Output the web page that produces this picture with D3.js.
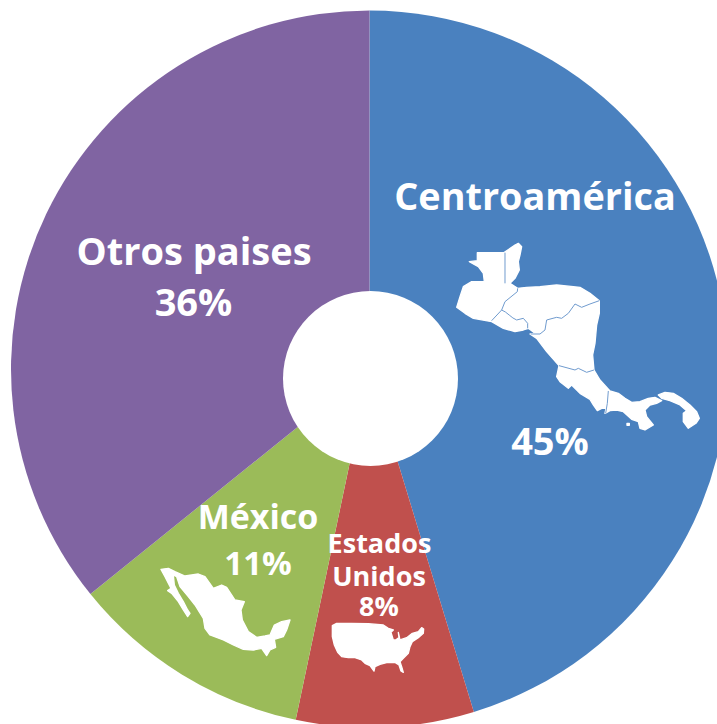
<!DOCTYPE html>
<html>
<head>
<meta charset="utf-8">
<script src="https://cdn.jsdelivr.net/npm/d3@7"></script>
<style>
  html, body { margin: 0; padding: 0; background: #fff; overflow: hidden; }
  svg { display: block; }
  text { font-family: "Open Sans", sans-serif; font-weight: 700; fill: #fff; text-anchor: middle; }
</style>
</head>
<body>
<svg id="chart" width="717" height="724"></svg>
<script>
// Shares (slice edges), labels are the rounded ones printed on it
const categories = ['Centroamérica', 'Estados Unidos', 'México', 'Otros paises'];
const shares = [45.3, 8.0, 10.9, 35.8];
const colors = ['#4a81bf', '#c0504d', '#9bbb59', '#8064a2'];

// Label lines: [text, x, baseline y, font size]
const labelLines = [
  ['Centroamérica', 535, 210, 37.8],
  ['45%', 550, 455, 38],
  ['Estados', 379.5, 553, 27],
  ['Unidos', 379, 586, 27],
  ['8%', 379, 616, 27],
  ['México', 258, 529, 34],
  ['11%', 258, 575, 33],
  ['Otros paises', 194, 265, 38],
  ['36%', 193.5, 316, 38]
];

// Map silhouettes
const centralAmerica = 'M112,68 L192,68 L225,45 L235,40 L245,50 L240,75 L235,95 L238,120 L225,145 L210,160 L233,175 L260,172 L300,170 L350,165 L400,170 L420,172 L450,190 L478,212 L478,250 L470,285 L465,340 L458,375 L462,420 L480,450 L510,483 '
  + 'L535,490 L555,505 L575,517 L600,515 L625,505 L645,502 L665,512 L650,520 L630,525 L615,540 L620,560 L640,585 L615,600 L600,595 L595,575 L575,568 L550,545 L530,540 L510,542 L495,550 L498,535 L485,535 L472,542 L460,525 L450,508 '
  + 'L420,490 L395,465 L385,475 L360,455 L350,440 L357,407 L320,365 L290,325 L270,312 L285,310 L265,295 L250,300 L225,305 L190,295 L155,275 L100,265 L75,250 L50,232 L60,200 L70,170 L95,155 L133,155 L130,130 L115,110 L88,95 L112,92 Z '
  + 'M655,495 L675,487 L700,490 L725,505 L750,525 L770,545 L778,565 L768,580 L745,595 L730,575 L730,550 L740,542 L720,525 L690,512 L665,505 Z '
  + 'M561,580 L568,580 L568,586 L561,586 Z';
const centralAmericaBorders = [
  'M195,68 L195,160',
  'M233,175 L232,185 L195,215 L185,240 L155,272',
  'M185,240 C200,245 215,265 230,270 L250,265 L263,280 L263,295',
  'M478,212 L450,222 L425,232 L405,222 L385,250 L365,265 L350,262 L320,270 L315,300 L300,312 L272,312',
  'M357,407 L405,420 L415,415 L440,427 L462,420',
  'M505,483 L502,520 L497,550'
];
const mexico = 'M18,28 L40,25 L60,35 L90,48 L130,42 L150,50 L175,85 L200,75 L215,82 L240,120 L268,125 L258,150 L262,180 L280,215 L305,232 L330,228 L345,225 L358,195 L380,185 L405,180 L395,210 L385,230 L358,238 L362,262 L345,270 L335,287 L320,265 L295,270 L265,268 L235,255 L205,240 L165,225 L150,205 L145,175 L120,135 L100,110 L75,80 L65,50 L55,45 L58,75 L70,100 L85,125 L98,150 L105,160 L98,170 L85,150 L70,125 L50,100 L38,92 L48,85 L30,50 Z';
const usa = 'M22,32 L35,25 L80,25 L130,26 L175,30 L190,40 L205,45 L198,52 L205,75 L212,75 L222,68 L220,52 L225,75 L245,68 L262,55 L280,50 L290,38 L296,42 L295,55 L280,68 L262,80 L255,95 L250,115 L235,130 L225,140 L230,155 L235,172 L228,168 L222,150 L210,142 L185,143 L165,148 L150,155 L147,168 L135,152 L120,145 L110,135 L90,128 L70,128 L50,125 L38,112 L28,90 L22,65 Z';

const svg = d3.select('#chart');

const pie = d3.pie().sort(null).value(d => d);
const arc = d3.arc().innerRadius(0).outerRadius(358.5);

const color = d3.scaleOrdinal().domain(categories).range(colors);

svg.append('g')
   .attr('transform', 'translate(369.5,369)')
   .selectAll('path')
   .data(pie(shares))
   .join('path')
   .attr('d', arc)
   .attr('fill', (d, i) => color(categories[i]));

// The hole sits a bit lower than the pie centre in the original
svg.append('circle')
   .attr('cx', 370.5)
   .attr('cy', 378.5)
   .attr('r', 87.5)
   .attr('fill', '#fff');

// Maps
const caMap = svg.append('g').attr('transform', 'translate(440,230) scale(0.3333)');
caMap.append('path')
     .attr('d', centralAmerica)
     .attr('fill', '#fff')
     .attr('stroke', '#fff')
     .attr('stroke-linejoin', 'round')
     .attr('stroke-width', 4);
caMap.selectAll('path.border')
     .data(centralAmericaBorders)
     .join('path')
     .attr('class', 'border')
     .attr('d', d => d)
     .attr('fill', 'none')
     .attr('stroke', '#6f9bce')
     .attr('stroke-width', 3);

svg.append('path')
   .attr('transform', 'translate(155,560) scale(0.3333)')
   .attr('d', mexico)
   .attr('fill', '#fff')
   .attr('stroke', '#fff')
   .attr('stroke-linejoin', 'round')
   .attr('stroke-width', 4);

svg.append('path')
   .attr('transform', 'translate(325,615) scale(0.3333)')
   .attr('d', usa)
   .attr('fill', '#fff')
   .attr('stroke', '#fff')
   .attr('stroke-linejoin', 'round')
   .attr('stroke-width', 4);

// Labels
svg.selectAll('text')
   .data(labelLines)
   .join('text')
   .attr('x', d => d[1])
   .attr('y', d => d[2])
   .attr('font-size', d => d[3])
   .text(d => d[0]);
</script>
</body>
</html>
